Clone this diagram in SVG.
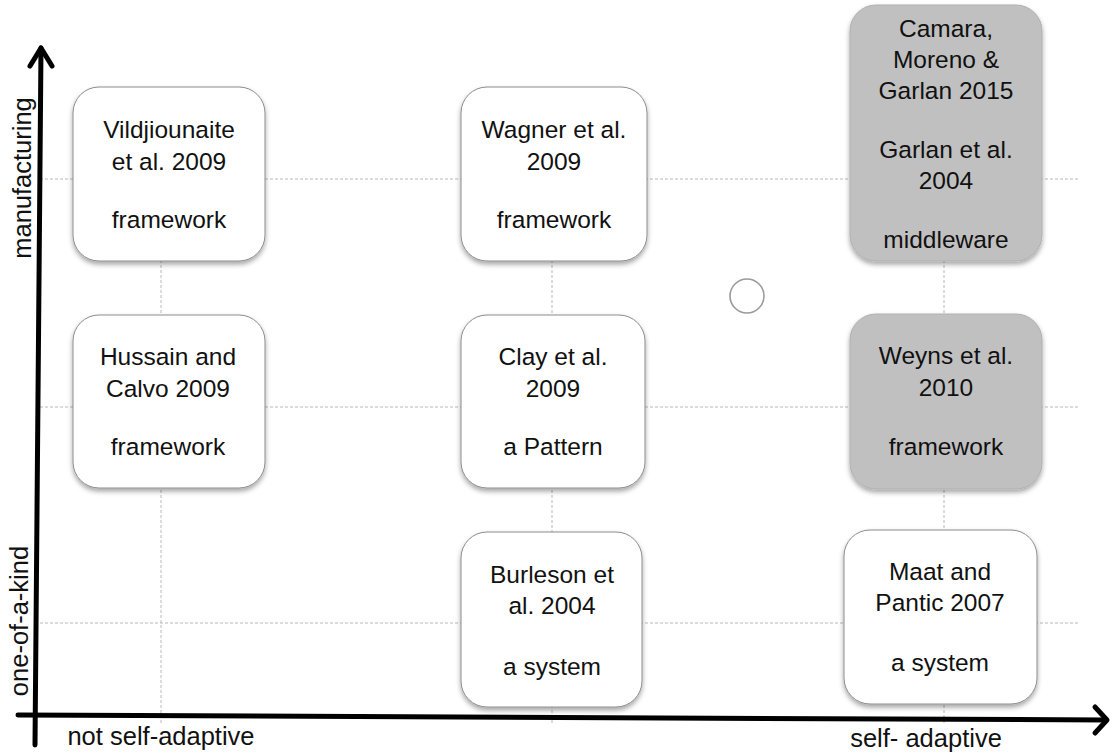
<svg xmlns="http://www.w3.org/2000/svg" width="1112" height="754" viewBox="0 0 1112 754">
  <style>
    .grid { stroke: #b8b8b8; stroke-width: 1; stroke-dasharray: 3 2; fill: none; }
    .axis { stroke: #000; stroke-width: 5; fill: none; stroke-linecap: round; stroke-linejoin: round; }
    .box { fill: #fff; stroke: #8c8c8c; stroke-width: 1; filter: url(#shadow); }
    .box.hl { fill: #c0c0c0; stroke: #b0b0b0; }
    .t { font-family: "Liberation Sans", Arial, Helvetica, sans-serif; font-size: 24.5px; fill: #111; text-anchor: middle; }
    .ax { font-family: "Liberation Sans", Arial, Helvetica, sans-serif; font-size: 25.5px; fill: #111; text-anchor: middle; }
  </style>
  <defs>
    <filter id="shadow" x="-10%" y="-10%" width="120%" height="130%">
      <feDropShadow dx="0" dy="3" stdDeviation="2.5" flood-color="#000" flood-opacity="0.35"/>
    </filter>
  </defs>
  <rect width="1112" height="754" fill="#fff"/>

  <!-- dashed grid -->
  <g id="grid">
    <line class="grid" x1="40" y1="179" x2="1078" y2="179"/>
    <line class="grid" x1="40" y1="407" x2="1078" y2="407"/>
    <line class="grid" x1="40" y1="623" x2="1078" y2="623"/>
    <line class="grid" x1="161" y1="100" x2="161" y2="724"/>
    <line class="grid" x1="552" y1="100" x2="552" y2="724"/>
    <line class="grid" x1="944" y1="100" x2="944" y2="725"/>
  </g>

  <!-- axes -->
  <g id="connectors">
    <path class="axis" d="M35 745 L41 48"/>
    <path class="axis" d="M30 66 L41 48 L52 66"/>
    <path class="axis" d="M18 715 L1106 720"/>
    <path class="axis" d="M1095 707 L1107 720 L1095 733"/>
  </g>

  <!-- axis labels -->
  <g id="axis-labels">
    <text class="ax" transform="translate(31 178) rotate(-90)">manufacturing</text>
    <text class="ax" transform="translate(28 621) rotate(-90)">one-of-a-kind</text>
    <text class="ax" x="161" y="745">not self-adaptive</text>
    <text class="ax" x="926" y="747">self- adaptive</text>
  </g>

  <g id="vildjiounaite">
    <rect class="box" x="73" y="87" width="192" height="174" rx="26"/>
    <text class="t" x="169" y="138">Vildjiounaite</text>
    <text class="t" x="169" y="170">et al. 2009</text>
    <text class="t" x="169" y="228">framework</text>
  </g>

  <g id="wagner">
    <rect class="box" x="461" y="87" width="186" height="174" rx="26"/>
    <text class="t" x="554" y="138">Wagner et al.</text>
    <text class="t" x="554" y="170">2009</text>
    <text class="t" x="554" y="228">framework</text>
  </g>

  <g id="camara-garlan">
    <rect class="box hl" x="850" y="5" width="192" height="256" rx="26"/>
    <text class="t" x="946" y="37">Camara,</text>
    <text class="t" x="946" y="68">Moreno &amp;</text>
    <text class="t" x="946" y="99">Garlan 2015</text>
    <text class="t" x="946" y="158">Garlan et al.</text>
    <text class="t" x="946" y="189">2004</text>
    <text class="t" x="946" y="248">middleware</text>
  </g>

  <g id="hussain">
    <rect class="box" x="73" y="315" width="192" height="173" rx="26"/>
    <text class="t" x="168" y="365">Hussain and</text>
    <text class="t" x="168" y="397">Calvo 2009</text>
    <text class="t" x="168" y="455">framework</text>
  </g>

  <g id="clay">
    <rect class="box" x="461" y="315" width="184" height="173" rx="26"/>
    <text class="t" x="553" y="365">Clay et al.</text>
    <text class="t" x="553" y="397">2009</text>
    <text class="t" x="553" y="455">a Pattern</text>
  </g>

  <g id="weyns">
    <rect class="box hl" x="850" y="314" width="192" height="175" rx="26"/>
    <text class="t" x="946" y="364">Weyns et al.</text>
    <text class="t" x="946" y="396">2010</text>
    <text class="t" x="946" y="455">framework</text>
  </g>

  <g id="burleson">
    <rect class="box" x="461" y="532" width="181" height="175" rx="26"/>
    <text class="t" x="552" y="583">Burleson et</text>
    <text class="t" x="552" y="614">al. 2004</text>
    <text class="t" x="552" y="675">a system</text>
  </g>

  <g id="maat">
    <rect class="box" x="844" y="530" width="193" height="174" rx="26"/>
    <text class="t" x="940" y="580">Maat and</text>
    <text class="t" x="940" y="611">Pantic 2007</text>
    <text class="t" x="940" y="671">a system</text>
  </g>

  <g id="marker-circle">
    <circle cx="747" cy="296" r="17" fill="#fff" stroke="#9a9a9a" stroke-width="1.6"/>
  </g>
</svg>
